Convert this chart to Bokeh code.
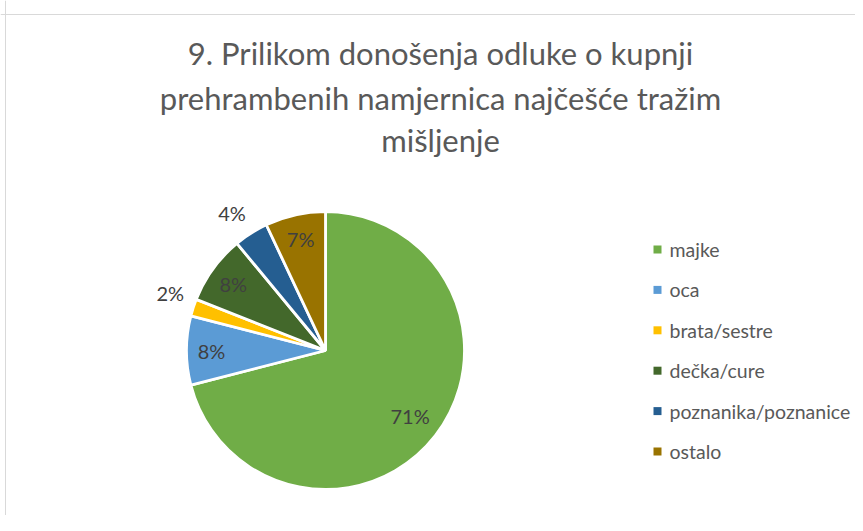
import math
from bokeh.plotting import figure
from bokeh.models import Range1d, ColumnDataSource, Span, Label
from bokeh.core.properties import value
from bokeh.embed import file_html
from bokeh.resources import INLINE

# ---- data ----
categories = ["majke", "oca", "brata/sestre", "dečka/cure", "poznanika/poznanice", "ostalo"]
percent = [71, 8, 2, 8, 4, 7]
colors = ["#70AD47", "#5B9BD5", "#FFC000", "#43682B", "#255E91", "#997300"]
title_lines = ["9. Prilikom donošenja odluke o kupnji",
               "prehrambenih namjernica najčešće tražim",
               "mišljenje"]

W, H = 855, 515
FONT = "Lato"
p = figure(width=W, height=H, output_backend="svg", toolbar_location=None,
           x_range=Range1d(0, W), y_range=Range1d(0, H),
           min_border=0, min_border_left=0, min_border_right=0,
           min_border_top=0, min_border_bottom=0)
p.axis.visible = False
p.grid.visible = False
p.outline_line_color = None
p.background_fill_color = "white"

# chart border (top and left visible)
p.add_layout(Span(location=H - 14, dimension="width", line_color="#D9D9D9", line_width=1))
p.add_layout(Span(location=5, dimension="height", line_color="#D9D9D9", line_width=1))

# ---- pie ----
cx, cy, r = 325, 165, 139
total = sum(percent)
starts, ends = [], []
in_x, in_y, in_t = [], [], []
out_x, out_y, out_t = [], [], []
cum = 0.0
for v in percent:
    a0 = math.pi / 2 - 2 * math.pi * cum / total
    cum += v
    a1 = math.pi / 2 - 2 * math.pi * cum / total
    starts.append(a0)
    ends.append(a1)
    mid = (a0 + a1) / 2
    frac = v / total
    lab = f"{round(100 * frac)}%"
    if frac < 0.05:
        d = 1.07 * r
        out_x.append(cx + d * math.cos(mid))
        out_y.append(cy + d * math.sin(mid) + 12)
        out_t.append(lab)
    else:
        d = (0.77 if frac >= 0.5 else 0.82) * r
        in_x.append(cx + d * math.cos(mid))
        in_y.append(cy + d * math.sin(mid))
        in_t.append(lab)

src = ColumnDataSource(dict(start=starts, end=ends, color=colors, cat=categories))
p.wedge(x=cx, y=cy, radius=r, start_angle="start", end_angle="end", direction="clock",
        fill_color="color", line_color="white", line_width=2.8, source=src)

p.text(x=in_x, y=in_y, text=in_t, text_font=value(FONT), text_font_size="20px",
       text_color="#404040", text_align="center", text_baseline="middle")
p.text(x=out_x, y=out_y, text=out_t, text_font=value(FONT), text_font_size="20px",
       text_color="#404040", text_align="right", text_baseline="middle")

# ---- title ----
ty = [463, 418, 376]
for line, yy in zip(title_lines, ty):
    p.add_layout(Label(x=440, y=yy, text=line, text_font=FONT, text_font_size="31px",
                       text_color="#595959", text_align="center", text_baseline="middle"))

# ---- legend ----
n = len(categories)
leg_y = [266 - i * 40.4 for i in range(n)]
p.scatter(x=[657] * n, y=leg_y, marker="square", size=8, fill_color=colors, line_color=None)
p.text(x=[669] * n, y=leg_y, text=categories, text_font=value(FONT), text_font_size="19.5px",
       text_color="#595959", text_align="left", text_baseline="middle")

open("out.html", "w").write(file_html(p, INLINE))
